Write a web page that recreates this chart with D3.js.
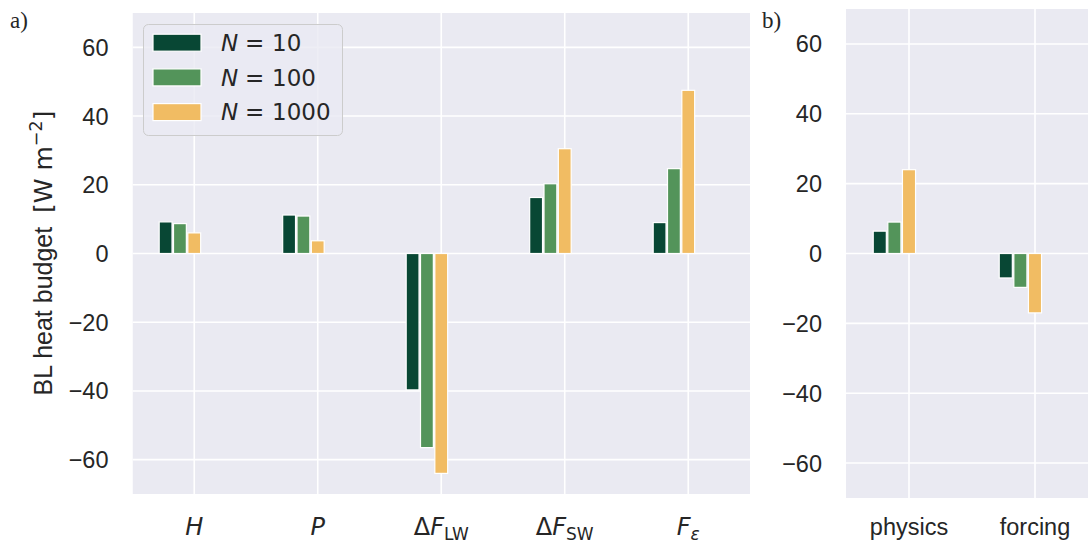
<!DOCTYPE html>
<html>
<head>
<meta charset="utf-8">
<script src="https://cdn.jsdelivr.net/npm/d3@7"></script>
<style>
  body { margin: 0; background: #fff; }
  text { font-family: "Liberation Sans", Arial, sans-serif; fill: #262626; }
  .math { font-family: "DejaVu Sans", sans-serif; }
</style>
</head>
<body>
<svg width="1088" height="546"></svg>
<script>
// panel a categories and values (W m-2)
var catsA = ['H', 'P', 'dFLW', 'dFSW', 'Feps'];
var n10A = [9.2, 11.2, -39.7, 16.3, 9.0];
var n100A = [8.7, 10.9, -56.5, 20.3, 24.7];
var n1000A = [6.0, 3.7, -64.0, 30.5, 47.5];

// panel b
var catsB = ['physics', 'forcing'];
var n10B = [6.4, -7.0];
var n100B = [9.0, -9.7];
var n1000B = [24.0, -17.0];

var seriesLabels = ['10', '100', '1000'];
var colors = ['#084734', '#53945a', '#f1bc63'];
var yTicks = [-60, -40, -20, 0, 20, 40, 60];

var svg = d3.select('svg');

function drawPanel(p) {
    var x = d3.scalePoint().domain(p.cats).range([p.left, p.right]).padding(0.5);
    var y = d3.scaleLinear().domain([-70, 70]).range([p.bottom, p.top]);
    var step = x.step();

    var g = svg.append('g');
    g.append('clipPath').attr('id', p.id + '-clip')
        .append('rect')
        .attr('x', p.left).attr('y', p.top)
        .attr('width', p.right - p.left).attr('height', p.bottom - p.top);

    var plot = g.append('g').attr('clip-path', 'url(#' + p.id + '-clip)');
    plot.append('rect')
        .attr('x', p.left).attr('y', p.top)
        .attr('width', p.right - p.left).attr('height', p.bottom - p.top)
        .attr('fill', '#eaeaf2');

    // grid
    plot.selectAll('.hgrid').data(yTicks).enter().append('line')
        .attr('x1', p.left).attr('x2', p.right)
        .attr('y1', function(d) { return y(d); })
        .attr('y2', function(d) { return y(d); })
        .attr('stroke', '#fff').attr('stroke-width', 1.6);
    plot.selectAll('.vgrid').data(p.cats).enter().append('line')
        .attr('y1', p.top).attr('y2', p.bottom)
        .attr('x1', function(d) { return x(d); })
        .attr('x2', function(d) { return x(d); })
        .attr('stroke', '#fff').attr('stroke-width', 1.6);

    // bars: last series centred on the tick, others to its left
    p.series.forEach(function(vals, si) {
        var off = (si - 2) * 0.116 * step;
        var w = 0.104 * step;
        plot.selectAll('.bar' + si).data(vals).enter().append('rect')
            .attr('x', function(d, i) { return x(p.cats[i]) + off - w / 2; })
            .attr('width', w)
            .attr('y', function(d) { return y(Math.max(0, d)); })
            .attr('height', function(d) { return Math.abs(y(d) - y(0)); })
            .attr('fill', colors[si])
            .attr('stroke', '#fff').attr('stroke-width', 1.2);
    });

    // y tick labels
    g.selectAll('.ytick').data(yTicks).enter().append('text')
        .attr('x', p.left - 24)
        .attr('y', function(d) { return y(d); })
        .attr('dy', '0.36em')
        .attr('text-anchor', 'end')
        .style('font-size', '23.5px')
        .text(function(d) { return d < 0 ? '\u2212' + Math.abs(d) : d; });

    // x tick labels
    var xl = g.selectAll('.xtick').data(p.cats).enter().append('text')
        .attr('x', function(d) { return x(d); })
        .attr('y', 535)
        .attr('text-anchor', 'middle');
    xl.each(function(d) { p.xlabel(d3.select(this), d); });

    // panel letter
    g.append('text')
        .attr('x', p.letterX).attr('y', 28)
        .style('font-family', '"Liberation Serif", "DejaVu Serif", serif')
        .style('font-size', '23px')
        .text(p.letter);
    return g;
}

function mathLabel(t, d) {
    t.attr('class', 'math').style('font-size', '24px');
    if (d === 'H' || d === 'P') {
        t.append('tspan').style('font-style', 'italic').text(d);
    } else if (d === 'dFLW' || d === 'dFSW') {
        t.append('tspan').text('\u0394');
        t.append('tspan').style('font-style', 'italic').text('F');
        t.append('tspan').attr('dy', 5).style('font-size', '17px').text(d === 'dFLW' ? 'LW' : 'SW');
    } else {
        t.append('tspan').style('font-style', 'italic').text('F');
        t.append('tspan').attr('dy', 5).style('font-size', '17px').style('font-style', 'italic').text('\u03b5');
    }
}

drawPanel({
    id: 'a', cats: catsA, series: [n10A, n100A, n1000A],
    left: 132.5, right: 750, top: 13, bottom: 494,
    letter: 'a)', letterX: 10,
    xlabel: mathLabel
});

drawPanel({
    id: 'b', cats: catsB, series: [n10B, n100B, n1000B],
    left: 846, right: 1098, top: 9, bottom: 498,
    letter: 'b)', letterX: 762,
    xlabel: function(t, d) { t.style('font-size', '23.5px').text(d); }
});

// y axis label
var yl = svg.append('text')
    .attr('transform', 'translate(52,253) rotate(-90)')
    .attr('text-anchor', 'middle')
    .attr('xml:space', 'preserve')
    .style('font-size', '25px');
yl.append('tspan').text('BL heat budget\u00a0\u00a0');
yl.append('tspan').attr('class', 'math').text('[W\u00a0m');
yl.append('tspan').attr('class', 'math').attr('dy', -10).style('font-size', '17.5px').text('\u22122');
yl.append('tspan').attr('class', 'math').attr('dy', 10).text(']');

// legend
var leg = svg.append('g');
leg.append('rect')
    .attr('x', 143.5).attr('y', 24.5).attr('width', 199).attr('height', 111)
    .attr('rx', 5)
    .attr('fill', 'rgba(234,234,242,0.8)')
    .attr('stroke', '#cccccc').attr('stroke-width', 1);
seriesLabels.forEach(function(s, i) {
    var cy = 42.7 + i * 34.7;
    leg.append('rect')
        .attr('x', 153).attr('y', cy - 8.5).attr('width', 48).attr('height', 17)
        .attr('fill', colors[i]).attr('stroke', '#fff').attr('stroke-width', 1.2);
    var t = leg.append('text')
        .attr('class', 'math')
        .attr('y', cy).attr('dy', '0.36em')
        .style('font-size', '23px');
    t.append('tspan').attr('x', 221).style('font-style', 'italic').text('N');
    t.append('tspan').attr('x', 245).text('=');
    t.append('tspan').attr('x', 272).text(s);
});
</script>
</body>
</html>
